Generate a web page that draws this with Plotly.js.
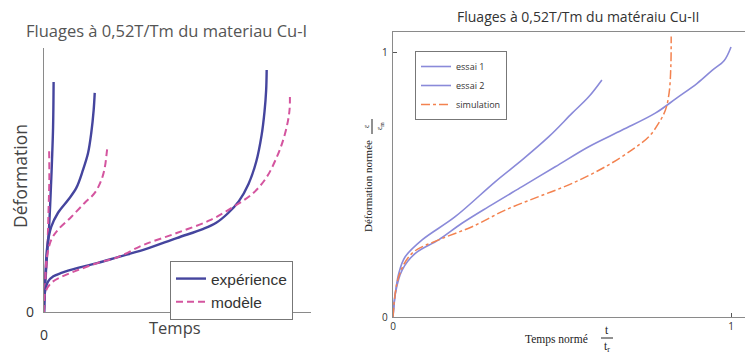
<!DOCTYPE html>
<html>
<head>
<meta charset="utf-8">
<script src="https://cdn.plot.ly/plotly-3.0.1.min.js"></script>
<style>html,body{margin:0;padding:0;background:#fff;}#chart{width:745px;height:358px;}</style>
</head>
<body>
<div id="chart"></div>
<script>
// ---- Left chart (Cu-I): normalised time / strain ----
var exp1X = [0, 0.001, 0.005, 0.012, 0.019, 0.025, 0.030, 0.034, 0.036];
var exp1Y = [0, 0.045, 0.121, 0.223, 0.322, 0.451, 0.576, 0.701, 0.871];
var mod1X = [0, 0.004, 0.011, 0.017, 0.020, 0.019];
var mod1Y = [0, 0.083, 0.197, 0.386, 0.511, 0.621];

var exp2X = [0, 0.002, 0.005, 0.012, 0.027, 0.052, 0.090, 0.121, 0.146, 0.165, 0.177, 0.186, 0.190];
var exp2Y = [0, 0.064, 0.133, 0.246, 0.322, 0.375, 0.424, 0.470, 0.538, 0.602, 0.678, 0.765, 0.830];
var mod2X = [0, 0.004, 0.009, 0.027, 0.052, 0.102, 0.152, 0.190, 0.215, 0.228, 0.234, 0.237];
var mod2Y = [0, 0.083, 0.197, 0.273, 0.311, 0.360, 0.413, 0.451, 0.500, 0.549, 0.595, 0.621];

var exp3X = [0, 0.003, 0.015, 0.035, 0.065, 0.127, 0.202, 0.277, 0.372, 0.497, 0.597, 0.645, 0.690, 0.730, 0.766, 0.795, 0.815, 0.826, 0.832, 0.834];
var exp3Y = [0, 0.072, 0.115, 0.135, 0.148, 0.167, 0.186, 0.208, 0.235, 0.280, 0.315, 0.338, 0.375, 0.420, 0.485, 0.570, 0.670, 0.760, 0.840, 0.917];
var mod3X = [0, 0.004, 0.027, 0.065, 0.127, 0.202, 0.277, 0.372, 0.497, 0.622, 0.709, 0.784, 0.834, 0.872, 0.896, 0.913, 0.920, 0.921];
var mod3Y = [0, 0.072, 0.110, 0.133, 0.159, 0.186, 0.208, 0.254, 0.299, 0.348, 0.398, 0.451, 0.511, 0.587, 0.652, 0.720, 0.770, 0.814];

// ---- Right chart (Cu-II): t/tr vs eps/eps_m ----
var essai1X = [0, 0.007, 0.017, 0.036, 0.086, 0.184, 0.303, 0.382, 0.461, 0.530, 0.579, 0.618];
var essai1Y = [0, 0.090, 0.165, 0.228, 0.292, 0.380, 0.513, 0.595, 0.683, 0.772, 0.834, 0.898];
var essai2X = [0, 0.007, 0.027, 0.066, 0.135, 0.204, 0.283, 0.382, 0.480, 0.579, 0.678, 0.776, 0.840, 0.900, 0.945, 0.980, 1.000];
var essai2Y = [0, 0.090, 0.178, 0.241, 0.292, 0.355, 0.418, 0.494, 0.569, 0.645, 0.708, 0.772, 0.830, 0.885, 0.935, 0.972, 1.023];
var simX = [0, 0.017, 0.056, 0.135, 0.234, 0.332, 0.431, 0.530, 0.628, 0.707, 0.757, 0.786, 0.806, 0.817, 0.822, 0.823];
var simY = [0, 0.153, 0.241, 0.292, 0.342, 0.405, 0.456, 0.506, 0.569, 0.633, 0.683, 0.734, 0.784, 0.850, 0.950, 1.062];

var leftTicks = [0];
var rightTicks = [0, 1];

var EXP = '#45459e', MOD = '#d4559f', ESS = '#8a8ad9', SIM = '#f3824f';
var W = 745, H = 358;
function px(x){return x/W;}
function py(y){return 1 - y/H;}

function ln(color, width, dash){ var o = {color:color, width:width, shape:'spline', smoothing:1}; if (dash) o.dash = dash; return o; }

var traces = [
  {x: exp1X, y: exp1Y, xaxis:'x', yaxis:'y', mode:'lines', name:'expérience', legend:'legend', legendgroup:'e', showlegend:true, line:ln(EXP, 2.4)},
  {x: mod1X, y: mod1Y, xaxis:'x', yaxis:'y', mode:'lines', name:'modèle', legend:'legend', legendgroup:'m', showlegend:true, line:ln(MOD, 2, '7px,4px')},
  {x: exp2X, y: exp2Y, xaxis:'x', yaxis:'y', mode:'lines', name:'expérience', legend:'legend', legendgroup:'e', showlegend:false, line:ln(EXP, 2.4)},
  {x: mod2X, y: mod2Y, xaxis:'x', yaxis:'y', mode:'lines', name:'modèle', legend:'legend', legendgroup:'m', showlegend:false, line:ln(MOD, 2, '7px,4px')},
  {x: exp3X, y: exp3Y, xaxis:'x', yaxis:'y', mode:'lines', name:'expérience', legend:'legend', legendgroup:'e', showlegend:false, line:ln(EXP, 2.4)},
  {x: mod3X, y: mod3Y, xaxis:'x', yaxis:'y', mode:'lines', name:'modèle', legend:'legend', legendgroup:'m', showlegend:false, line:ln(MOD, 2, '7px,4px')},
  {x: essai1X, y: essai1Y, xaxis:'x2', yaxis:'y2', mode:'lines', name:'essai 1', legend:'legend2', line:ln(ESS, 1.6)},
  {x: essai2X, y: essai2Y, xaxis:'x2', yaxis:'y2', mode:'lines', name:'essai 2', legend:'legend2', line:ln(ESS, 1.6)},
  {x: simX, y: simY, xaxis:'x2', yaxis:'y2', mode:'lines', name:'simulation', legend:'legend2', line:ln(SIM, 1.5, 'dashdot')}
];

var sans = 'Open Sans, Noto Sans, sans-serif';
var serif = 'Liberation Serif, DejaVu Serif, serif';

function ann(x, y, text, font, angle){
  var a = {xref:'paper', yref:'paper', x:px(x), y:py(y), xanchor:'center', yanchor:'middle', text:text, showarrow:false, font:font};
  if (angle !== undefined) a.textangle = angle;
  return a;
}

var layout = {
  width: W, height: H,
  margin: {l:0, r:0, t:0, b:0},
  paper_bgcolor: '#fff', plot_bgcolor: '#fff',
  showlegend: true,
  xaxis: {domain:[px(44), px(311)], range:[0,1], showgrid:false, zeroline:false, showline:true, linecolor:'#8a8a8a', linewidth:1.2,
          tickvals:leftTicks, ticktext:['0'], ticks:'', tickfont:{family:sans, size:14, color:'#333'}, ticklabelstandoff:10, fixedrange:true},
  yaxis: {domain:[py(312), py(48)], range:[0,1], showgrid:false, zeroline:false, showline:true, linecolor:'#8a8a8a', linewidth:1.2,
          tickvals:leftTicks, ticktext:['0'], ticks:'', tickfont:{family:sans, size:14, color:'#333'}, ticklabelstandoff:6, fixedrange:true},
  xaxis2: {domain:[px(393), 1], range:[0, 1.0414], showgrid:false, zeroline:false, showline:true, mirror:true, linecolor:'#8a8a8a', linewidth:1.2,
          tickvals:rightTicks, ticks:'inside', ticklen:4, tickcolor:'#555', tickfont:{family:sans, size:10, color:'#333'}, ticklabelstandoff:0, anchor:'y2', fixedrange:true},
  yaxis2: {domain:[py(317), py(32)], range:[0, 1.0795], showgrid:false, zeroline:false, showline:true, mirror:true, linecolor:'#8a8a8a', linewidth:1.2,
          tickvals:rightTicks, ticks:'inside', ticklen:4, tickcolor:'#555', tickfont:{family:sans, size:10, color:'#333'}, ticklabelstandoff:2, anchor:'x2', fixedrange:true},
  legend: {x:px(170), y:py(261), xanchor:'left', yanchor:'top', bgcolor:'#fff', bordercolor:'#777', borderwidth:1,
           font:{family:'Liberation Sans, Arial, sans-serif', size:15.5, color:'#333'}, tracegroupgap:0, itemclick:false},
  legend2: {x:px(415), y:py(51), xanchor:'left', yanchor:'top', bgcolor:'#fff', bordercolor:'#777', borderwidth:1,
           font:{family:sans, size:9, color:'#333'}, tracegroupgap:0, itemclick:false},
  annotations: [
    ann(166, 31, 'Fluages à 0,52T/Tm du materiau Cu-I', {family:sans, size:16.5, color:'#555'}),
    ann(578, 17, 'Fluages à 0,52T/Tm du matéraiu Cu-II', {family:sans, size:14, color:'#333'}),
    ann(20, 176, 'Déformation', {family:sans, size:17.5, color:'#444'}, -90),
    ann(175, 327, 'Temps', {family:sans, size:16.5, color:'#444'}),
    ann(368, 186, 'Déformation normée', {family:serif, size:11, color:'#222'}, -90),
    ann(366, 126, 'ε', {family:serif, size:8, color:'#222'}, -90),
    ann(380, 126, 'ε<sub>m</sub>', {family:serif, size:8, color:'#222'}, -90),
    ann(556, 339, 'Temps normé', {family:serif, size:11.5, color:'#222'}),
    ann(607, 330, 't', {family:serif, size:11.5, color:'#222'}),
    ann(607, 347, 't<sub>r</sub>', {family:serif, size:11.5, color:'#222'})
  ],
  shapes: [
    {type:'line', xref:'paper', yref:'paper', x0:px(601), x1:px(613), y0:py(338), y1:py(338), line:{color:'#222', width:1}},
    {type:'line', xref:'paper', yref:'paper', x0:px(372), x1:px(372), y0:py(119), y1:py(134), line:{color:'#222', width:1}}
  ]
};

Plotly.newPlot('chart', traces, layout, {displayModeBar:false, staticPlot:true});
</script>
</body>
</html>
